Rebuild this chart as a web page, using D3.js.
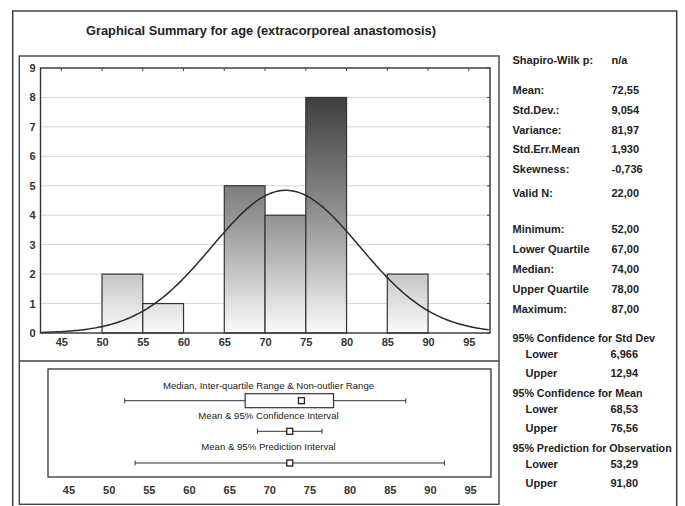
<!DOCTYPE html>
<html>
<head>
<meta charset="utf-8">
<script src="https://cdn.jsdelivr.net/npm/d3@7"></script>
<style>
  html, body { margin: 0; padding: 0; background: #fff; }
  svg { display: block; font-family: "Liberation Sans", Arial, sans-serif; }
</style>
</head>
<body>
<svg id="chart" width="685" height="506"></svg>
<script>
// Histogram of age: bins of width 5
const binStarts = [50, 55, 60, 65, 70, 75, 80, 85];
const binCounts = [2, 1, 0, 5, 4, 8, 0, 2];
const binWidth = 5;

// Axis ticks
const xTicks = [45, 50, 55, 60, 65, 70, 75, 80, 85, 90, 95];
const yTicks = [0, 1, 2, 3, 4, 5, 6, 7, 8, 9];

// Summary statistics, as printed
const statLabels = ["Shapiro-Wilk p:", "Mean:", "Std.Dev.:", "Variance:", "Std.Err.Mean", "Skewness:",
  "Valid N:", "Minimum:", "Lower Quartile", "Median:", "Upper Quartile", "Maximum:"];
const statValues = ["n/a", "72,55", "9,054", "81,97", "1,930", "-0,736",
  "22,00", "52,00", "67,00", "74,00", "78,00", "87,00"];

// Interval estimates, as printed
const intervalTitles = ["95% Confidence for Std Dev", "95% Confidence for Mean", "95% Prediction for Observation"];
const intervalLower = ["6,966", "68,53", "53,29"];
const intervalUpper = ["12,94", "76,56", "91,80"];

const boxCaptions = ["Median, Inter-quartile Range & Non-outlier Range", "Mean & 95% Confidence Interval", "Mean & 95% Prediction Interval"];

const num = s => +s.replace(",", ".");
const stat = name => num(statValues[statLabels.indexOf(name)]);

const mean = stat("Mean:"), sd = stat("Std.Dev.:"), n = stat("Valid N:");
const minV = stat("Minimum:"), q1 = stat("Lower Quartile"), med = stat("Median:"),
      q3 = stat("Upper Quartile"), maxV = stat("Maximum:");

const svg = d3.select("#chart");
const ink = "#2b2b2b";

// Outer frame (open at the bottom edge of the page)
svg.append("rect").attr("x", 12.7).attr("y", 11).attr("width", 664).attr("height", 520)
  .attr("fill", "none").attr("stroke", "#333").attr("stroke-width", 1.4);

svg.append("text").attr("x", 261).attr("y", 35).attr("text-anchor", "middle")
  .attr("font-size", 12.8).attr("font-weight", "bold").attr("fill", "#222")
  .text("Graphical Summary for age (extracorporeal anastomosis)");

// Chart panel
svg.append("rect").attr("x", 19.3).attr("y", 56).attr("width", 479.7).attr("height", 448.3)
  .attr("fill", "none").attr("stroke", "#444").attr("stroke-width", 1.4);
svg.append("line").attr("x1", 19.3).attr("x2", 499).attr("y1", 361).attr("y2", 361)
  .attr("stroke", "#444").attr("stroke-width", 1.4);

// ---- Histogram ----
const xDomain = [42.45, 97.6];
const x = d3.scaleLinear().domain(xDomain).range([40.5, 490]);
const y = d3.scaleLinear().domain([0, 9]).range([333, 68]);

const defs = svg.append("defs");
const grad = defs.append("linearGradient").attr("id", "barFill")
  .attr("gradientUnits", "userSpaceOnUse")
  .attr("x1", 0).attr("x2", 0).attr("y1", y(0)).attr("y2", y(8.2));
grad.append("stop").attr("offset", 0).attr("stop-color", "#fbfbfb");
grad.append("stop").attr("offset", 0.45).attr("stop-color", "#999");
grad.append("stop").attr("offset", 1).attr("stop-color", "#3a3a3a");

const plot = svg.append("g");
plot.selectAll(".grid").data(yTicks.slice(1, -1)).join("line")
  .attr("x1", x(xDomain[0])).attr("x2", x(xDomain[1]))
  .attr("y1", d => y(d)).attr("y2", d => y(d))
  .attr("stroke", "#d6d6d6").attr("stroke-width", 1);

plot.selectAll(".bar").data(binStarts.map((s, i) => ({ s, c: binCounts[i] })).filter(d => d.c > 0))
  .join("rect")
  .attr("x", d => x(d.s)).attr("width", d => x(d.s + binWidth) - x(d.s))
  .attr("y", d => y(d.c)).attr("height", d => y(0) - y(d.c))
  .attr("fill", "url(#barFill)").attr("stroke", "#333").attr("stroke-width", 1.2);

// Expected normal curve for N observations in bins of width 5
const curveXs = d3.range(xDomain[0], xDomain[1] + 0.01, 0.25);
const dens = v => n * binWidth * Math.exp(-0.5 * ((v - mean) / sd) ** 2) / (sd * Math.sqrt(2 * Math.PI));
plot.append("path").datum(curveXs)
  .attr("d", d3.line().x(v => x(v)).y(v => y(dens(v))))
  .attr("fill", "none").attr("stroke", ink).attr("stroke-width", 1.5);

// Plot frame and axes
plot.append("rect").attr("x", x(xDomain[0])).attr("y", y(9))
  .attr("width", x(xDomain[1]) - x(xDomain[0])).attr("height", y(0) - y(9))
  .attr("fill", "none").attr("stroke", "#333").attr("stroke-width", 1.4);

const styleTicks = g => g.selectAll("text").attr("font-size", 11).attr("font-weight", "bold")
  .attr("fill", "#333").attr("font-family", "Liberation Sans, Arial, sans-serif");

const gx = svg.append("g").attr("transform", `translate(0,${y(0) + 5})`)
  .call(d3.axisBottom(x).tickValues(xTicks).tickSize(0).tickPadding(0));
gx.select(".domain").remove();
styleTicks(gx);
gx.selectAll("text").attr("dy", "0.71em");

const gy = svg.append("g").attr("transform", `translate(${x(xDomain[0])},0)`)
  .call(d3.axisLeft(y).tickValues(yTicks).tickSize(0).tickPadding(5));
gy.select(".domain").remove();
styleTicks(gy);

// inner tick marks along top and right edges
plot.selectAll(".tt").data(xTicks).join("line")
  .attr("x1", d => x(d)).attr("x2", d => x(d)).attr("y1", y(9)).attr("y2", y(9) + 3)
  .attr("stroke", "#444");
plot.selectAll(".rt").data(yTicks).join("line")
  .attr("x1", x(xDomain[1]) - 3).attr("x2", x(xDomain[1])).attr("y1", d => y(d)).attr("y2", d => y(d))
  .attr("stroke", "#444");

// ---- Box plot panel ----
const xb = d3.scaleLinear().domain(xDomain).range([48, 491]);
svg.append("rect").attr("x", xb(xDomain[0])).attr("y", 369)
  .attr("width", xb(xDomain[1]) - xb(xDomain[0])).attr("height", 108)
  .attr("fill", "none").attr("stroke", "#333").attr("stroke-width", 1.3);

const midX = (xb(xDomain[0]) + xb(xDomain[1])) / 2;
const captionY = [388.5, 419, 449.5];
svg.selectAll(".cap").data(boxCaptions).join("text")
  .attr("x", midX - 1).attr("y", (d, i) => captionY[i]).attr("text-anchor", "middle")
  .attr("font-size", 9.6).attr("fill", "#222").text(d => d);

function interval(lo, hi, cy) {
  svg.append("line").attr("x1", xb(lo)).attr("x2", xb(hi)).attr("y1", cy).attr("y2", cy)
    .attr("stroke", "#333").attr("stroke-width", 1);
  [lo, hi].forEach(v => svg.append("line").attr("x1", xb(v)).attr("x2", xb(v))
    .attr("y1", cy - 2.5).attr("y2", cy + 2.5).attr("stroke", "#333").attr("stroke-width", 1));
}
function marker(v, cy) {
  svg.append("rect").attr("x", xb(v) - 3).attr("y", cy - 3).attr("width", 6).attr("height", 6)
    .attr("fill", "#fff").attr("stroke", "#222").attr("stroke-width", 1.3);
}

// Median, IQR and non-outlier range
const boxY = 400.7;
interval(minV, maxV, boxY);
svg.append("rect").attr("x", xb(q1)).attr("y", boxY - 7).attr("width", xb(q3) - xb(q1)).attr("height", 14)
  .attr("fill", "#fff").attr("stroke", "#333").attr("stroke-width", 1.2);
marker(med, boxY);

// Mean with confidence and prediction intervals
const ciY = 431.3, piY = 463;
interval(num(intervalLower[1]), num(intervalUpper[1]), ciY);
marker(mean, ciY);
interval(num(intervalLower[2]), num(intervalUpper[2]), piY);
marker(mean, piY);

const gxb = svg.append("g").attr("transform", `translate(0,486)`)
  .call(d3.axisBottom(xb).tickValues(xTicks).tickSize(0).tickPadding(0));
gxb.select(".domain").remove();
styleTicks(gxb);
gxb.selectAll("text").attr("dy", "0.71em");

// ---- Statistics panel ----
const statY = [60, 90, 110, 129.5, 149, 169, 193, 229, 249, 269, 288.5, 309];
const panel = svg.append("g").attr("font-size", 11).attr("font-weight", "bold").attr("fill", "#222");
panel.selectAll(".sl").data(statLabels).join("text")
  .attr("x", 512.5).attr("y", (d, i) => statY[i] + 4).text(d => d);
panel.selectAll(".sv").data(statValues).join("text")
  .attr("x", 611.5).attr("y", (d, i) => statY[i] + 4).text(d => d);

const headY = [338, 393, 448];
intervalTitles.forEach((t, i) => {
  const h = headY[i];
  panel.append("text").attr("x", 512.5).attr("y", h + 4).attr("font-size", 10.7).text(t);
  panel.append("text").attr("x", 525.5).attr("y", h + 15.5 + 4).text("Lower");
  panel.append("text").attr("x", 610.5).attr("y", h + 15.5 + 4).text(intervalLower[i]);
  panel.append("text").attr("x", 525.5).attr("y", h + 35 + 4).text("Upper");
  panel.append("text").attr("x", 610.5).attr("y", h + 35 + 4).text(intervalUpper[i]);
});
</script>
</body>
</html>
